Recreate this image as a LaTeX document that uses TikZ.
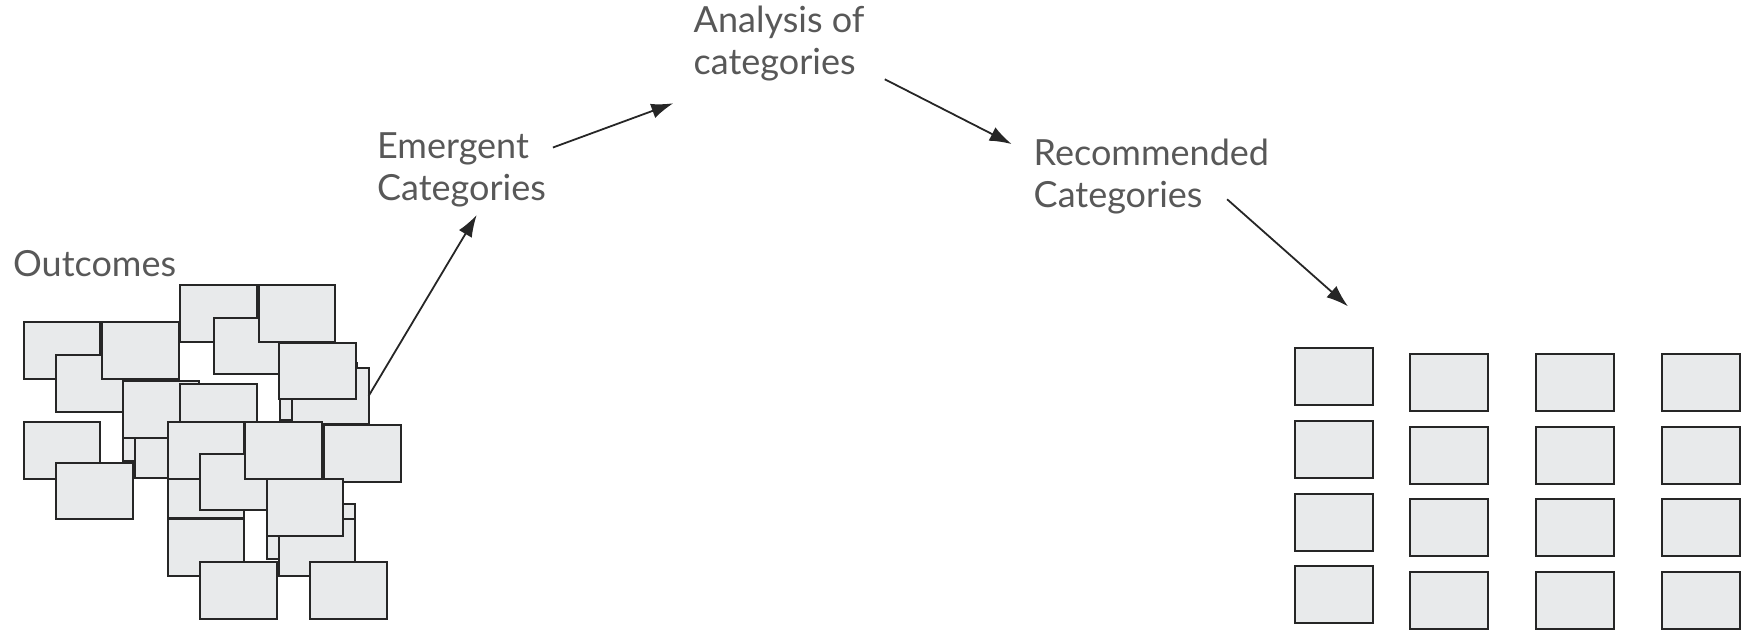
\documentclass[tikz,border=0pt]{standalone}
\usepackage{fontspec}
\setmainfont{Lato}
\usetikzlibrary{arrows.meta,calc}

\definecolor{cardfill}{RGB}{232,234,235}
\definecolor{cardline}{RGB}{38,38,38}
\definecolor{textgray}{RGB}{88,88,88}

\tikzset{
  card/.style={draw=cardline, fill=cardfill, line width=1pt, inner sep=0pt, outer sep=0pt,
    minimum width=38.3pt, minimum height=28.3pt, anchor=north west},
  gridcard/.style={card, minimum width=39pt, minimum height=28.5pt},
  txt/.style={text=textgray, font=\fontsize{18}{21}\selectfont, align=left, inner sep=0pt, anchor=base west},
  arr/.style={-{Latex[length=11pt,width=7.5pt]}, line width=0.9pt, black!85}
}

\begin{document}
\begin{tikzpicture}[x=0.5pt,y=-0.5pt]
  \useasboundingbox (0,0) rectangle (1748,633);

  % outcomes, piled up
  \foreach \n/\x/\y in {1/22.7/321, 2/55/354.3, 3/101/321, 4/22.7/421, 5/121.7/403.3,
      6/134.3/420, 7/55/461.7, 8/179.3/284, 9/212.7/316.7, 10/257.7/284, 11/279.3/362,
      12/291/366.7, 13/278.3/341.7, 14/121.7/380, 15/179.3/382.7, 16/166.7/460,
      17/166.7/518.3, 18/166.7/421, 19/199/452.7, 20/265.7/501.7, 21/277.7/502.7,
      22/277.7/518.3, 23/244.3/421, 24/323.3/424, 25/265.7/478.3, 26/199/561, 27/309.3/561}
    \node[card] (o\n) at (\x+1,\y+1) {};

  % recommended categories, in a grid
  \foreach \r in {0,...,3}
    \node[gridcard] (g1\r) at (1295,348.3+72.7*\r) {};
  \foreach \c/\x in {2/1410.3,3/1536,4/1661.7}
    \foreach \r in {0,...,3}
      \node[gridcard] (g\c\r) at (\x,354.3+72.5*\r) {};

  % base west of a two line node is the last baseline
  \node[txt] (outc) at (12.7,276.7) {Outcomes};
  \node[txt] (emerg) at (376.7,200) {Emergent\\Categories};
  \node[txt] (anal) at (693.3,74) {Analysis of\\categories};
  \node[txt] (recom) at (1033.3,207) {Recommended\\Categories};

  \draw[arr] (o12.east) -- ($(emerg.south west)+(100,8)$);
  \draw[arr] ($(emerg.north east)+(6.7,15.7)$) -- ($(anal.south west)+(-20,22.3)$);
  \draw[arr] ($(anal.south east)+(20,-1.7)$) -- ($(recom.north west)+(-21.6,6)$);
  \draw[arr] ($(recom.south east)+(-42.3,-14.7)$) -- ($(g10.north)+(14,-42)$);
\end{tikzpicture}
\end{document}
